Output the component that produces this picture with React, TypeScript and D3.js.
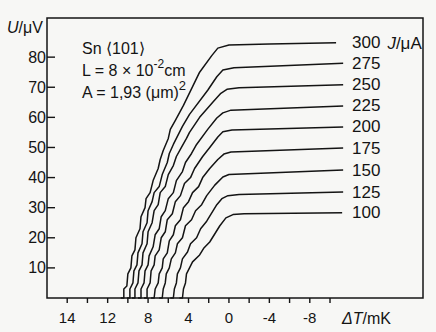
import * as d3 from 'd3';

// J in µA, one curve per current
const currents = [300, 275, 250, 225, 200, 175, 150, 125, 100];

// [ΔT (mK), U (µV)], small steps included
const curve300 = [[10.7, 0], [10.4, 0], [10.4, 3], [10.1, 4], [10.0, 8], [9.7, 10], [9.6, 14], [9.3, 16], [9.2, 20], [8.8, 23], [8.7, 27], [8.3, 30], [8.2, 33], [7.8, 35], [7.5, 39], [7.0, 43], [6.8, 46], [6.5, 49], [6.0, 53], [5.8, 56], [5.3, 59], [4.5, 64], [2.9, 75], [1.7, 80.5], [1.1, 83], [0, 84], [-4, 84.4], [-10.6, 84.8]];
const curve275 = [[10.1, 0], [9.8, 0], [9.8, 3], [9.5, 5], [9.4, 9], [9.1, 11], [9.0, 15], [8.6, 18], [8.5, 22], [8.1, 25], [8.0, 29], [7.6, 32], [7.4, 35], [6.9, 37], [6.6, 41], [6.1, 45], [5.9, 48], [5.5, 51], [4.9, 55], [4.6, 57], [3.9, 61], [2.1, 69], [1.2, 73.5], [0.6, 75.7], [-0.5, 76.5], [-11.3, 78]];
const curve250 = [[9.6, 0], [9.3, 0], [9.3, 3], [9.0, 5], [8.9, 9], [8.6, 11], [8.5, 15], [8.1, 18], [8.0, 22], [7.6, 25], [7.4, 29], [7.0, 31], [6.8, 35], [6.3, 37], [6.0, 41], [5.5, 44], [5.2, 47], [4.7, 50], [4.2, 53], [3.9, 55], [2.9, 60], [1.6, 65], [0.8, 68], [0.2, 69.3], [-1, 69.8], [-11.3, 70.8]];
const curve225 = [[9.0, 0], [8.7, 0], [8.7, 3], [8.4, 5], [8.3, 9], [8.0, 11], [7.9, 14], [7.5, 17], [7.3, 21], [6.9, 23], [6.7, 27], [6.3, 29], [6.0, 33], [5.5, 35], [5.2, 39], [4.6, 42], [4.3, 45], [3.7, 48], [3.2, 51], [2.1, 56], [1.2, 59.8], [0.6, 61.5], [-0.2, 62.4], [-11.3, 63.8]];
const curve200 = [[8.4, 0], [8.1, 0], [8.1, 3], [7.8, 5], [7.7, 9], [7.4, 11], [7.3, 14], [6.9, 16], [6.7, 20], [6.3, 22], [6.1, 26], [5.6, 28], [5.3, 32], [4.8, 34], [4.4, 38], [3.8, 40], [3.4, 43], [2.6, 47], [1.9, 50], [1.1, 53.5], [0.6, 55.2], [-0.3, 55.8], [-11.3, 56.8]];
const curve175 = [[7.7, 0], [7.4, 0], [7.3, 3], [7.0, 5], [6.9, 8], [6.6, 10], [6.5, 13], [6.1, 15], [5.9, 19], [5.5, 21], [5.3, 24], [4.8, 26], [4.5, 30], [4.0, 32], [3.6, 35], [3.0, 37], [2.6, 40], [1.9, 43], [1.1, 46], [0.5, 47.8], [-0.2, 48.5], [-11.3, 49.8]];
const curve150 = [[6.9, 0], [6.6, 0], [6.5, 3], [6.3, 5], [6.2, 8], [5.9, 10], [5.7, 13], [5.3, 15], [5.1, 18], [4.6, 20], [4.3, 24], [3.7, 26], [3.3, 29], [2.7, 31], [2.2, 34], [1.4, 37.5], [0.6, 40.2], [0, 41], [-11.3, 42.5]];
const curve125 = [[5.8, 0], [5.5, 0], [5.4, 3], [5.2, 5], [5.1, 8], [4.8, 10], [4.6, 13], [4.1, 15.3], [3.8, 18], [3.2, 20], [2.8, 23], [2.2, 25.5], [1.2, 31], [0.7, 33], [0.1, 34], [-1, 34.4], [-11.3, 35.2]];
const curve100 = [[4.9, 0], [4.6, 0], [4.5, 3], [4.3, 5], [4.2, 8], [3.9, 10], [3.6, 12], [2.9, 14.3], [2.5, 16.5], [1.9, 18.6], [0.9, 24], [0.3, 26.6], [-0.4, 27.7], [-1.5, 28], [-11.2, 28.3]];

const curves = [curve300, curve275, curve250, curve225, curve200, curve175, curve150, curve125, curve100];

const yTicks = [10, 20, 30, 40, 50, 60, 70, 80];
const xTicks = [16, 14, 12, 10, 8, 6, 4, 2, 0, -2, -4, -6, -8, -10];
// the scan prints "14" under the 16 tick
const xLabelAt = [16, 12, 8, 4, 0, -4, -8];
const xLabelText = ['14', '12', '8', '4', '0', '-4', '-8'];

const font = '"Liberation Sans", Arial, sans-serif';
const ink = '#141414';

export default function App() {
  const x = d3.scaleLinear().domain([18, -19.2]).range([47, 423]);
  const y = d3.scaleLinear().domain([0, 93]).range([298, 18]);

  const line = d3.line<number[]>()
    .x(d => x(d[0]))
    .y(d => y(d[1]));

  const [x0, x1] = x.range();
  const [y0, y1] = y.range();

  return (
    <svg width={436} height={332} style={{ position: 'absolute', left: 0, top: 0 }} fontFamily={font}>
      <rect width={436} height={332} fill="#f7f7f5" />
      <rect x={x0} y={y1} width={x1 - x0} height={y0 - y1} fill="none" stroke={ink} strokeWidth={1.5} />

      {yTicks.map(t => (
        <g key={t}>
          <line x1={x0} x2={x0 + 8} y1={y(t)} y2={y(t)} stroke={ink} strokeWidth={1.4} />
          <text x={x0 - 1} y={y(t)} textAnchor="end" dominantBaseline="central" fontSize={16} fill={ink}>{t}</text>
        </g>
      ))}
      {xTicks.map(t => (
        <line key={t} x1={x(t)} x2={x(t)} y1={y0} y2={y0 + 5} stroke={ink} strokeWidth={1.4} />
      ))}
      {xLabelAt.map((t, i) => (
        <text key={t} x={x(t)} y={y0 + 19} textAnchor="middle" dominantBaseline="central" fontSize={15} fill={ink}>{xLabelText[i]}</text>
      ))}

      <text x={7} y={27} dominantBaseline="central" fontSize={16} fill={ink}>
        <tspan fontStyle="italic">U</tspan>/μV
      </text>
      <text x={342} y={318} dominantBaseline="central" fontSize={16} fill={ink}>
        <tspan fontStyle="italic">ΔT</tspan>/mK
      </text>

      <g fontSize={16} fill={ink}>
        <text x={82} y={48} dominantBaseline="central">Sn  ⟨101⟩</text>
        <text x={82} y={70} dominantBaseline="central">
          L = 8 × 10<tspan dy={-6} fontSize={12}>-2</tspan><tspan dy={6}>cm</tspan>
        </text>
        <text x={82} y={92} dominantBaseline="central">
          A = 1,93 (μm)<tspan dy={-7} fontSize={13}>2</tspan>
        </text>
      </g>

      {curves.map((c, i) => (
        <path key={currents[i]} d={line(c) ?? ''} fill="none" stroke={ink} strokeWidth={1.5} strokeLinejoin="round" />
      ))}

      {curves.map((c, i) => {
        const end = c[c.length - 1];
        return (
          <text key={currents[i]} x={352} y={y(end[1])} dominantBaseline="central" fontSize={17} fill={ink}>
            {currents[i]}
            {i === 0 ? <tspan dx={7}><tspan fontStyle="italic">J</tspan>/μA</tspan> : null}
          </text>
        );
      })}
    </svg>
  );
}
